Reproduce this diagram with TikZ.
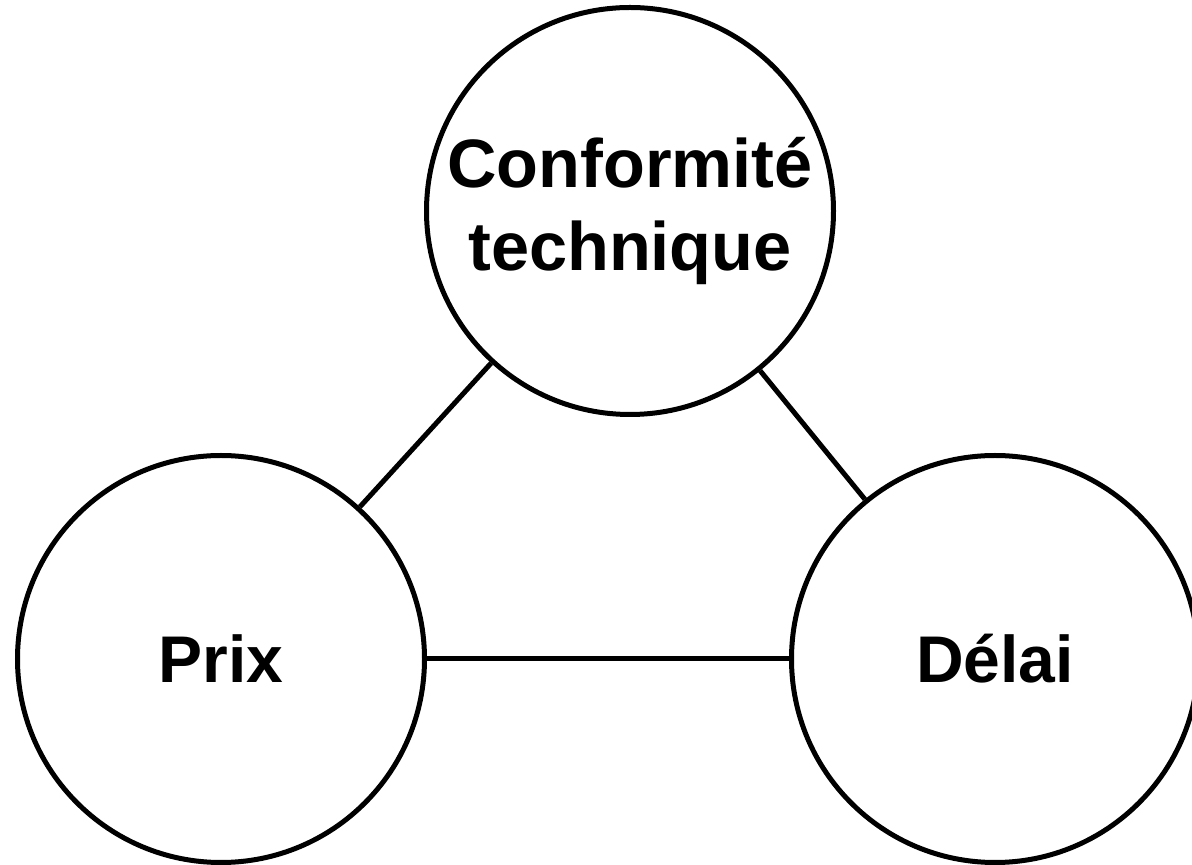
\documentclass[tikz,border=0pt]{standalone}
\usepackage{fontspec}
\setmainfont{Liberation Sans}
\begin{document}
\begin{tikzpicture}[x=1pt,y=1pt,
  ring/.style={circle,draw=black,line width=5pt,fill=white,inner sep=0pt,
    minimum size=407pt,align=center,
    font=\fontsize{66}{83}\selectfont\bfseries},
  link/.style={draw=black,line width=5pt}]
  \fill[white] (0,0) rectangle (1192,865);
  \useasboundingbox (0,0) rectangle (1192,865);
  % the three criteria
  \node[ring,font=\fontsize{68.5}{83}\selectfont\bfseries] (tech) at (630,654) {Conformité\\technique};
  \node[ring] (prix) at (221,206) {Prix};
  \node[ring] (delai) at (995,206) {Délai};
  % links between the criteria
  \path[link] (tech) -- (prix);
  \path[link] (tech) -- (delai);
  \path[link] (prix) -- (delai);
\end{tikzpicture}
\end{document}
